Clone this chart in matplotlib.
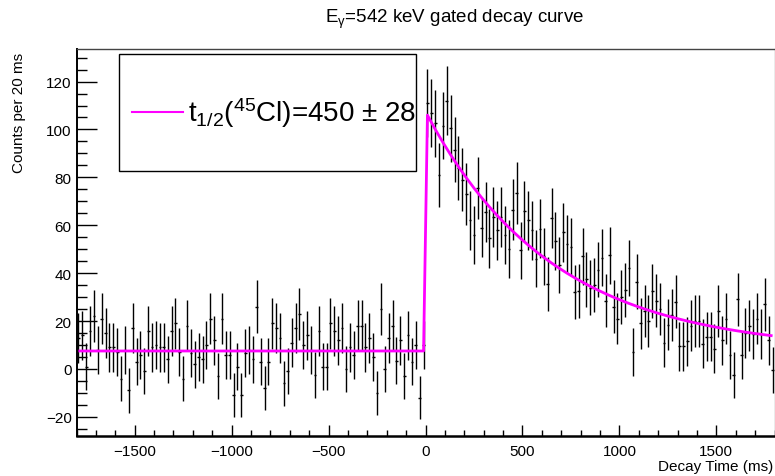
import numpy as np
import matplotlib
matplotlib.use("Agg")
import matplotlib.pyplot as plt
from matplotlib.patches import Rectangle
from matplotlib.lines import Line2D
from matplotlib.ticker import MultipleLocator

plt.rcParams['font.family'] = ['Liberation Sans', 'DejaVu Sans']
plt.rcParams['mathtext.fontset'] = 'custom'
plt.rcParams['mathtext.rm'] = 'Liberation Sans'
plt.rcParams['mathtext.it'] = 'Liberation Sans'
plt.rcParams['mathtext.bf'] = 'Liberation Sans:bold'

# Histogram binning (ms)
bin_width = 20
x_low, x_high = -1800, 1800

# Background-subtracted counts per 20 ms bin, from -1800 ms to +1800 ms
counts_before = [
    13, 14, 1, 16, 22, 8, 21, 15, 9, 9, 7, -4, 8, -9, 17, 3, 6, -1, 16, 9,
    10, 9, 9, 4, 16, 19, 7, -4, 18, 6.5, 2, 5, 4, 10, 21, 12, -3, 21, 6, 6,
    -11, 1, -11, 6.5, 8, 4, 26, 3, -8, 3, 19, 17, 13, -6, -1, 11, 17, 23, 10, 14,
    8, -2.5, 16, 1, 1, 19, 16, 12, 17, 0, 9, 6, 18, 18, 9, 13, 5, -10, 25, 0,
    13, 18, 3.5, 12, -3, 14, 3, 10, -12, 10,
]
counts_after = [
    111, 107, 102.5, 81, 101.5, 112, 100.5, 91.5, 84, 79, 73, 62, 56, 75.5, 59,
    65.5, 54.5, 63.5, 58, 63.5, 56, 50, 66.5, 73.5, 49.5, 66, 62, 58, 46, 58.5,
    47, 35.5, 63, 53.5, 43.5, 57, 52, 51, 32, 32.5, 47, 37.5, 34, 35, 41.5,
    46.5, 28.5, 47.5, 26, 21, 30, 33, 42, 7, 36.5, 19, 24, 20, 32.5, 28.5,
    25, 11, 18.5, 22.5, 28, 9.5, 9.5, 11.5, 18, 20, 20, 10.5, 13.5, 13.5, 8.5,
    24, 12, 21, 6, -2.5, 29, 6, 15, 18, 14.5, 21, 14.5, 27, 12, -0.5,
]
counts = np.array(counts_before + counts_after, dtype=float)

# Statistical errors of the subtracted spectrum: gate counts plus background variance
background_variance = 94.0
errors = np.sqrt(np.clip(counts + background_variance, 0, None))

centers = np.arange(x_low + bin_width / 2, x_high, bin_width)

# Fit: flat background before the implant, exponential decay on top of it afterwards
fit_background = 7.5
fit_amplitude = 100.0
fit_half_life = 450.0
fit_error = 28.0
t_fit = np.arange(-1790, 1791, 20)
y_fit = np.where(t_fit < 0, fit_background,
                 fit_background + fit_amplitude * 2.0 ** (-t_fit / fit_half_life))

W, H = 775, 477
fig = plt.figure(figsize=(W / 100, H / 100), dpi=100)
left, right, top, bottom = 76.5, 774.5, 50, 437
ax = fig.add_axes([left / W, 1 - bottom / H, (right - left) / W, (bottom - top) / H])

ax.errorbar(centers, counts, yerr=errors, xerr=7, fmt='none', ecolor='black',
            elinewidth=1.0, capsize=0, zorder=2)
ax.plot(t_fit, y_fit, color='#ff00ff', lw=2.0, zorder=3, solid_capstyle='butt')

ax.set_xlim(x_low, x_high)
ax.set_ylim(-28, 133.6)

ax.xaxis.set_major_locator(MultipleLocator(500))
ax.xaxis.set_minor_locator(MultipleLocator(100))
ax.yaxis.set_major_locator(MultipleLocator(20))
ax.yaxis.set_minor_locator(MultipleLocator(5))
ax.tick_params(axis='x', which='major', direction='in', length=8, width=1, pad=6,
               labelsize=11, top=False)
ax.tick_params(axis='x', which='minor', direction='in', length=4, width=1, top=False)
ax.tick_params(axis='y', which='major', direction='in', length=14.5, width=1, pad=3.5,
               labelsize=11, right=False)
ax.tick_params(axis='y', which='minor', direction='in', length=7.2, width=1, right=False)

ax.spines['bottom'].set_linewidth(1.8)
ax.spines['left'].set_linewidth(1.4)
ax.spines['top'].set_linewidth(1.0)
ax.spines['top'].set_color('#444444')
ax.spines['right'].set_linewidth(1.0)
ax.spines['right'].set_color('#999999')

# Titles
fig.text(455 / W, 1 - 19 / H, r'E$_{\gamma}$=542 keV gated decay curve',
         ha='center', va='center', fontsize=13.5)
fig.text(19 / W, 1 - 53 / H, 'Counts per 20 ms', rotation=90,
         ha='center', va='top', fontsize=11)
fig.text(773.5 / W, 1 - 467 / H, 'Decay Time (ms)', ha='right', va='center',
         fontsize=11)

# Legend box
box = Rectangle((119 / W, 1 - 172 / H), (416 - 119) / W, (172 - 55) / H,
                transform=fig.transFigure, facecolor='white', edgecolor='black',
                lw=1.0, zorder=5)
fig.add_artist(box)
fig.add_artist(Line2D([132 / W, 183 / W], [1 - 113 / H, 1 - 113 / H],
                      transform=fig.transFigure, color='#ff00ff', lw=1.5, zorder=6))
fig.text(188 / W, 1 - 113 / H,
         't$_{1/2}$($^{45}$Cl)=%d $\\pm$ %d' % (fit_half_life, fit_error),
         ha='left', va='center', fontsize=20, zorder=7)

fig.savefig('out.png', dpi=100)
